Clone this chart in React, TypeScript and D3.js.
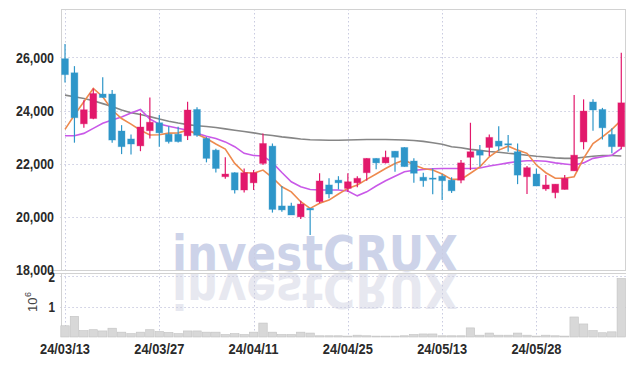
import React from 'react';
import * as d3 from 'd3';

const dates = [
  '24/03/13','24/03/14','24/03/15','24/03/18','24/03/19','24/03/20','24/03/21','24/03/22','24/03/25','24/03/26',
  '24/03/27','24/03/28','24/03/29','24/04/01','24/04/02','24/04/03','24/04/04','24/04/05','24/04/08','24/04/09',
  '24/04/11','24/04/12','24/04/15','24/04/16','24/04/17','24/04/18','24/04/19','24/04/22','24/04/23','24/04/24',
  '24/04/25','24/04/26','24/04/29','24/04/30','24/05/02','24/05/03','24/05/07','24/05/08','24/05/09','24/05/10',
  '24/05/13','24/05/14','24/05/16','24/05/17','24/05/20','24/05/21','24/05/22','24/05/23','24/05/24','24/05/27',
  '24/05/28','24/05/29','24/05/30','24/05/31','24/06/03','24/06/04','24/06/05','24/06/07','24/06/10','24/06/11'
];
const opens = [
  25950,25420,23500,23700,24620,24620,23230,22930,22670,23240,
  23540,23110,23110,23050,24040,22950,22510,21510,21660,21010,
  21280,22010,22660,20410,20410,20000,20320,20570,21200,21380,
  21070,21280,21660,22200,22030,22470,22610,22100,21490,21460,
  21530,21380,21380,22240,22490,22610,22850,22750,22450,21510,
  21610,21050,20910,21030,21730,22820,24320,24040,23100,22640
];
const highs = [
  26500,25670,24390,24830,25250,24770,23450,23100,23910,24490,
  23830,23410,23390,24330,24120,23000,22560,22240,21680,21820,
  21760,23140,22760,21160,20530,20610,20330,21640,21450,21530,
  21640,21530,22200,22200,22490,22480,22620,22200,21660,21820,
  21610,21490,22140,23540,22700,23100,23410,23080,22760,21910,
  21820,21570,21230,21570,24580,24420,24420,24100,23330,26170
];
const lows = [
  25050,22790,23350,23670,24490,22790,22360,22350,22470,22950,
  22640,22760,22800,22890,23010,22050,21670,21430,20880,20920,
  21010,21950,20160,20190,20070,19920,19320,20510,20700,21030,
  20940,21110,21360,21790,22010,21700,21890,21280,21130,20850,
  20630,20900,21260,21760,21890,22290,22490,22450,21230,20860,
  21160,20980,20700,21030,21730,22540,23240,22910,22390,22540
];
const closes = [
  25350,23730,24030,24640,24490,22890,22640,22740,23380,23560,
  23160,22830,22830,24020,23070,22200,21820,21610,21010,21660,
  21660,22760,20280,20260,20070,20480,20260,21350,20860,21280,
  21320,21450,22200,22030,22240,22240,21890,21640,21360,21440,
  21360,20980,22030,22450,22320,22990,22660,22740,21570,21850,
  21160,21200,21230,21450,22320,23980,24020,23350,22640,24290
];
// volume in millions of shares (axis unit 10^6)
const volumes = [
  0.37,0.68,0.21,0.24,0.20,0.29,0.16,0.11,0.16,0.24,
  0.18,0.15,0.11,0.20,0.20,0.16,0.16,0.08,0.11,0.08,
  0.16,0.46,0.16,0.08,0.08,0.16,0.13,0.04,0.04,0.04,
  0.03,0.06,0.04,0.03,0.03,0.03,0.04,0.08,0.10,0.10,
  0.04,0.04,0.04,0.30,0.06,0.13,0.06,0.06,0.13,0.06,
  0.03,0.06,0.04,0.03,0.66,0.43,0.21,0.14,0.17,1.93
];
const ma5 = [
  23290,23830,24330,24830,24520,24020,23700,23490,23260,23080,
  23090,23150,23160,23260,23110,22950,22740,22550,22010,21670,
  21640,21760,21480,21130,20940,20570,20320,20510,20630,20860,
  21070,21200,21410,21610,21820,22010,22140,21950,21820,21760,
  21610,21410,21410,21640,21880,22260,22510,22660,22510,22390,
  21950,21660,21450,21450,21510,22200,22760,23010,23290,23640
];
const ma20 = [
  23050,23050,23140,23330,23520,23640,23760,23910,24040,23680,
  23490,23410,23330,23260,23140,23030,22950,22820,22640,22390,
  22310,22290,22040,21670,21320,21130,21030,21010,21010,21010,
  20970,20790,20940,21160,21360,21530,21700,21750,21780,21810,
  21820,21820,21820,21820,21840,21910,21970,22030,22080,22110,
  22110,22090,22030,21990,21950,22030,22200,22260,22320,22580
];
const ma60 = [
  24580,24520,24450,24370,24260,24150,24020,23920,23850,23770,
  23680,23600,23530,23470,23430,23400,23360,23310,23260,23210,
  23160,23100,23060,23010,22970,22930,22900,22890,22880,22880,
  22890,22900,22910,22910,22910,22900,22890,22870,22840,22790,
  22730,22640,22600,22540,22500,22460,22430,22390,22360,22320,
  22280,22250,22220,22200,22200,22240,22280,22310,22310,22290
];
const priceTicks = [18000, 20000, 22000, 24000, 26000];
const volumeTicks = [1, 2];
const dateTicks = ['24/03/13', '24/03/27', '24/04/11', '24/04/25', '24/05/13', '24/05/28'];

const UP = '#e2186b';
const DOWN = '#2e96c9';
const GRID = '#c9cbe0';
const FONT = '"Liberation Sans", Arial, sans-serif';

export default function App() {
  const W = 634, H = 366;
  const left = 60.3, right = 626;
  const pTop = 9, pBot = 270, vTop = 273, vBot = 337;

  const x = d3.scaleBand<string>().domain(dates).range([left, right]).padding(0);
  const cx = (d: string) => (x(d) as number) + x.bandwidth() / 2;
  const y = d3.scaleLinear().domain([18000, 27820]).range([pBot, pTop]);
  const yv = d3.scaleLinear().domain([0, 2.11]).range([vBot, vTop]);

  const bodyW = x.bandwidth() * 0.72;

  const lineGen = (vals: number[]) =>
    d3.line<number>().x((_, i) => cx(dates[i])).y((v) => y(v))(vals) as string;

  return (
    <svg width={W} height={H} style={{ position: 'absolute', left: 0, top: 0, background: '#fff' }}
      fontFamily={FONT}>
      <defs>
        <clipPath id="plotclip">
          <rect x={left} y={pTop} width={right - left} height={vBot - pTop} />
        </clipPath>
      </defs>
      {/* watermark */}
      <g fontFamily='"DejaVu Sans", sans-serif' fontWeight="bold" fontSize={50}>
        <text x={315} y={271} textAnchor="middle" fill="#cdd3e9" textLength={286} lengthAdjust="spacingAndGlyphs">investCRUX</text>
        <g transform="translate(0,544) scale(1,-1)">
          <text x={315} y={271} textAnchor="middle" fill="#e7e8f0" textLength={286} lengthAdjust="spacingAndGlyphs">investCRUX</text>
        </g>
      </g>

      {/* grid lines */}
      <g stroke={GRID} strokeWidth={1} strokeDasharray="1.5,2.5">
        {priceTicks.filter((t) => t > 18000).map((t) => (
          <line key={'h' + t} x1={left} x2={right} y1={Math.round(y(t)) + 0.5} y2={Math.round(y(t)) + 0.5} />
        ))}
        {volumeTicks.map((t) => (
          <line key={'v' + t} x1={left} x2={right} y1={Math.round(yv(t)) + 0.5} y2={Math.round(yv(t)) + 0.5} />
        ))}
        {dateTicks.map((d) => (
          <g key={'d' + d}>
            <line x1={Math.round(cx(d)) + 0.5} x2={Math.round(cx(d)) + 0.5} y1={pTop} y2={pBot} />
            <line x1={Math.round(cx(d)) + 0.5} x2={Math.round(cx(d)) + 0.5} y1={vTop} y2={vBot} />
          </g>
        ))}
      </g>

      {/* borders */}
      <g stroke="#d2d2d2" strokeWidth={1} fill="none">
        <line x1={61.5} x2={61.5} y1={pTop} y2={pBot} />
        <line x1={61.5} x2={61.5} y1={vTop} y2={vBot} />
        <line x1={61} x2={right} y1={pTop + 0.5} y2={pTop + 0.5} />
        <line x1={right - 0.5} x2={right - 0.5} y1={pTop} y2={pBot} />
        <line x1={50} x2={right} y1={pBot + 0.5} y2={pBot + 0.5} />
        <line x1={50} x2={right} y1={vTop + 0.5} y2={vTop + 0.5} />
      </g>

      {/* volume bars */}
      <g>
        {dates.map((d, i) => (
          <rect key={'vb' + d} x={(x(d) as number) + 0.5} width={x.bandwidth() - 1}
            y={yv(volumes[i])} height={vBot - yv(volumes[i])}
            fill="#d8d8d8" stroke="#c2c2c2" strokeWidth={0.6} />
        ))}
      </g>

      {/* moving averages */}
      <g fill="none" clipPath="url(#plotclip)">
        <path d={lineGen(ma60)} stroke="#868686" strokeWidth={1.6} />
        <path d={lineGen(ma20)} stroke="#c959e8" strokeWidth={1.6} />
        <path d={lineGen(ma5)} stroke="#ee8a4e" strokeWidth={1.6} />
      </g>

      {/* candles */}
      <g>
        {dates.map((d, i) => {
          const o = opens[i], c = closes[i], h = highs[i], l = lows[i];
          const col = c >= o ? UP : DOWN;
          const top = y(Math.max(o, c));
          const bh = Math.max(1.2, Math.abs(y(o) - y(c)));
          const xc = cx(d);
          return (
            <g key={'c' + d}>
              <line x1={xc} x2={xc} y1={y(h)} y2={y(l)} stroke={col} strokeWidth={1.2} />
              <rect x={xc - bodyW / 2} y={top} width={bodyW} height={bh} fill={col}
                stroke={col} strokeOpacity={0.35} strokeWidth={1} />
            </g>
          );
        })}
      </g>

      {/* price axis labels */}
      <g fontSize={15} fill="#2a2a2a" textAnchor="end" fontWeight="bold">
        {priceTicks.map((t) => (
          <text key={'pt' + t} x={54} y={y(t)} dy="0.35em" textLength={38} lengthAdjust="spacingAndGlyphs">
            {d3.format(',')(t)}
          </text>
        ))}
        {volumeTicks.map((t) => (
          <text key={'vt' + t} x={55} y={yv(t)} dy="0.35em" textLength={6.5} lengthAdjust="spacingAndGlyphs">{t}</text>
        ))}
      </g>

      {/* volume unit */}
      <g transform="translate(37,312) rotate(-90)" fill="#444">
        <text x={0} y={0} fontSize={13}>10</text>
        <text x={15} y={-6} fontSize={9}>6</text>
      </g>

      {/* date labels */}
      <g fontSize={15} fill="#2a2a2a" textAnchor="middle" fontWeight="bold">
        {dateTicks.map((d) => (
          <text key={'xt' + d} x={cx(d)} y={354} textLength={50} lengthAdjust="spacingAndGlyphs">{d}</text>
        ))}
      </g>
    </svg>
  );
}
